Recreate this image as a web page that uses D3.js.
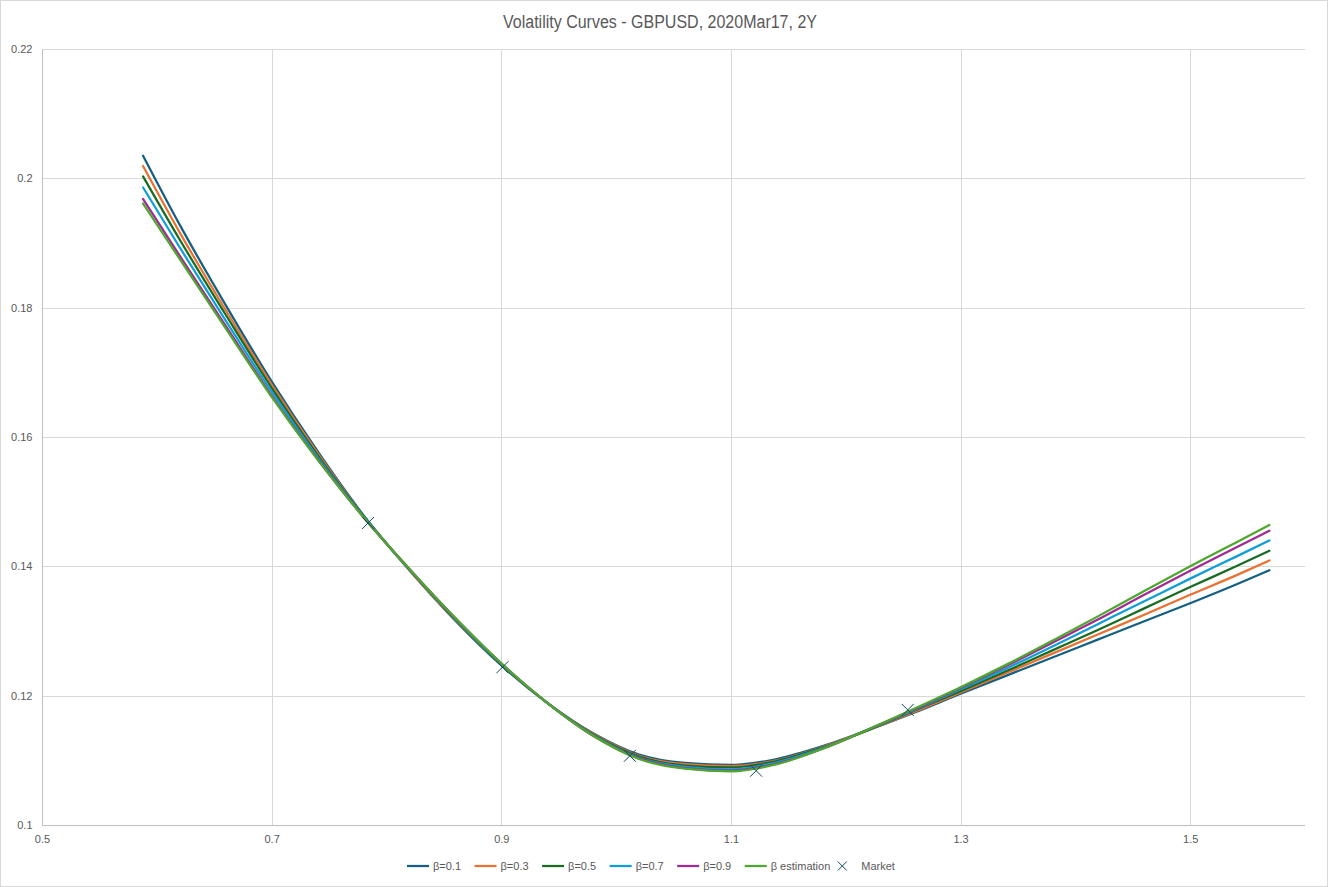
<!DOCTYPE html>
<html>
<head>
<meta charset="utf-8">
<title>Volatility Curves</title>
<script src="https://cdn.jsdelivr.net/npm/d3@7"></script>
<style>
  body { margin: 0; background: #fff; }
  text { font-family: "Liberation Sans Narrow", "Liberation Sans", Arial, sans-serif; fill: #595959; }
</style>
</head>
<body>
<svg id="chart" width="1328" height="887"></svg>
<script>
// ----------- DATA -----------
var strikes = [0.588, 0.62, 0.66, 0.70, 0.74, 0.78, 0.82, 0.86, 0.90, 0.94, 0.98, 1.02, 1.06,
               1.10, 1.14, 1.18, 1.22, 1.26, 1.30, 1.34, 1.38, 1.42, 1.46, 1.50, 1.54, 1.569];

var volBeta01 = [0.2035, 0.1928, 0.1804, 0.1686, 0.1578, 0.1479, 0.1394, 0.1316, 0.1247, 0.1189, 0.1142, 0.1109, 0.1096,
                 0.1093, 0.1102, 0.1122, 0.1147, 0.1174, 0.1203, 0.1231, 0.1259, 0.1287, 0.1315, 0.1343, 0.1372, 0.1394];
var volBeta03 = [0.2019, 0.1916, 0.1796, 0.1681, 0.1575, 0.1478, 0.1394, 0.1317, 0.1248, 0.1189, 0.1141, 0.1107, 0.1094,
                 0.1091, 0.1100, 0.1121, 0.1147, 0.1175, 0.1205, 0.1235, 0.1265, 0.1295, 0.1325, 0.1356, 0.1386, 0.1409];
var volBeta05 = [0.2003, 0.1905, 0.1789, 0.1676, 0.1572, 0.1478, 0.1395, 0.1318, 0.1248, 0.1189, 0.1140, 0.1106, 0.1092,
                 0.1089, 0.1099, 0.1120, 0.1147, 0.1177, 0.1207, 0.1238, 0.1270, 0.1302, 0.1335, 0.1368, 0.1400, 0.1424];
var volBeta07 = [0.1986, 0.1893, 0.1780, 0.1670, 0.1569, 0.1477, 0.1395, 0.1319, 0.1249, 0.1189, 0.1139, 0.1104, 0.1090,
                 0.1086, 0.1097, 0.1119, 0.1148, 0.1178, 0.1210, 0.1242, 0.1276, 0.1311, 0.1346, 0.1381, 0.1415, 0.1440];
var volBeta09 = [0.1968, 0.1880, 0.1772, 0.1664, 0.1566, 0.1476, 0.1396, 0.1320, 0.1250, 0.1189, 0.1138, 0.1103, 0.1088,
                 0.1084, 0.1095, 0.1118, 0.1148, 0.1179, 0.1212, 0.1246, 0.1282, 0.1318, 0.1356, 0.1393, 0.1429, 0.1455];
var volBetaEst = [0.1961, 0.1875, 0.1768, 0.1662, 0.1565, 0.1476, 0.1396, 0.1320, 0.1250, 0.1189, 0.1138, 0.1102, 0.1087,
                  0.1083, 0.1094, 0.1118, 0.1148, 0.1180, 0.1213, 0.1248, 0.1285, 0.1323, 0.1362, 0.1400, 0.1437, 0.1464];

var marketStrikes = [0.784, 0.901, 1.012, 1.122, 1.254];
var marketVols    = [0.1467, 0.1244, 0.1107, 0.1084, 0.1178];

var seriesNames  = ["β=0.1", "β=0.3", "β=0.5", "β=0.7", "β=0.9", "β estimation"];
var seriesValues = [volBeta01, volBeta03, volBeta05, volBeta07, volBeta09, volBetaEst];
var seriesColors = ["#156082", "#E97132", "#196B24", "#0F9ED5", "#A02B93", "#4EA72E"];
var marketName  = "Market";
var marketColor = "#104862";

var xTicks = [0.5, 0.7, 0.9, 1.1, 1.3, 1.5];
var yTicks = [0.1, 0.12, 0.14, 0.16, 0.18, 0.2, 0.22];
var titleText = "Volatility Curves - GBPUSD, 2020Mar17, 2Y";

// ----------- SETUP -----------
var svg = d3.select("#chart"),
  width = +svg.attr("width"),
  height = +svg.attr("height");

var plot = { left: 42, right: 1305, top: 49, bottom: 825 };

var x = d3.scaleLinear().domain([0.5, 1.6]).range([plot.left, plot.right]);
var y = d3.scaleLinear().domain([0.1, 0.22]).range([plot.bottom, plot.top]);

// chart background + outline
svg.append("rect")
  .attr("x", 0.5).attr("y", 0.5)
  .attr("width", width - 1).attr("height", height - 1)
  .attr("fill", "#fff")
  .attr("stroke", "#d9d9d9");

// title (squeezed a little, the original font is a narrow one)
svg.append("text")
  .attr("x", 660).attr("y", 28)
  .attr("text-anchor", "middle")
  .attr("textLength", 314)
  .attr("lengthAdjust", "spacingAndGlyphs")
  .style("font-size", "18px")
  .text(titleText);

// gridlines
svg.append("g")
  .selectAll("line")
  .data(yTicks.slice(1))
  .enter().append("line")
  .attr("x1", plot.left).attr("x2", plot.right)
  .attr("y1", function(d) { return Math.round(y(d)) + 0.5; })
  .attr("y2", function(d) { return Math.round(y(d)) + 0.5; })
  .attr("stroke", "#d9d9d9");

svg.append("g")
  .selectAll("line")
  .data(xTicks.slice(1))
  .enter().append("line")
  .attr("y1", plot.top).attr("y2", plot.bottom)
  .attr("x1", function(d) { return Math.round(x(d)) + 0.5; })
  .attr("x2", function(d) { return Math.round(x(d)) + 0.5; })
  .attr("stroke", "#d9d9d9");

// axes (d3 axes, then restyled to look like Excel)
var yAxis = svg.append("g")
  .attr("transform", "translate(" + (Math.round(plot.left) + 0.5) + ",0)")
  .call(d3.axisLeft(y).tickValues(yTicks).tickSize(0).tickPadding(10).tickFormat(d3.format("~g")));
var xAxis = svg.append("g")
  .attr("transform", "translate(0," + (Math.round(plot.bottom) + 0.5) + ")")
  .call(d3.axisBottom(x).tickValues(xTicks).tickSize(0).tickPadding(10).tickFormat(d3.format("~g")));

[xAxis, yAxis].forEach(function(a) {
  a.select(".domain").attr("stroke", "#bfbfbf");
  a.selectAll("text").style("font-size", "11px").attr("fill", "#595959")
    .style("font-family", '"Liberation Sans Narrow", "Liberation Sans", Arial, sans-serif');
});
yAxis.select(".domain").attr("d", "M0," + plot.top + "V" + plot.bottom);
xAxis.select(".domain").attr("d", "M" + plot.left + ",0H" + plot.right);

// ----------- CURVES -----------
var line = d3.line()
  .x(function(d) { return x(d[0]); })
  .y(function(d) { return y(d[1]); })
  .curve(d3.curveMonotoneX);

svg.append("g")
  .selectAll("path")
  .data(seriesValues)
  .enter().append("path")
  .attr("d", function(vals) { return line(strikes.map(function(k, i) { return [k, vals[i]]; })); })
  .attr("fill", "none")
  .attr("stroke", function(d, i) { return seriesColors[i]; })
  .attr("stroke-width", 2.25)
  .attr("stroke-linecap", "round");

// market points as X markers
var mk = 6;
function crossPath(cx, cy, r) {
  return "M" + (cx - r) + "," + (cy - r) + "L" + (cx + r) + "," + (cy + r) +
         "M" + (cx - r) + "," + (cy + r) + "L" + (cx + r) + "," + (cy - r);
}
svg.append("g")
  .selectAll("path")
  .data(marketStrikes)
  .enter().append("path")
  .attr("d", function(k, i) { return crossPath(x(k), y(marketVols[i]), mk); })
  .attr("stroke", marketColor)
  .attr("stroke-width", 1);

// ----------- LEGEND -----------
var legend = svg.append("g").attr("transform", "translate(0,866)");
var lx = 407, textEnd = 0;
seriesNames.forEach(function(name, i) {
  legend.append("line")
    .attr("x1", lx).attr("x2", lx + 22)
    .attr("y1", 0).attr("y2", 0)
    .attr("stroke", seriesColors[i])
    .attr("stroke-width", 2.25);
  var t = legend.append("text")
    .attr("x", lx + 26).attr("y", 4)
    .style("font-size", "11px")
    .text(name);
  textEnd = lx + 26 + t.node().getComputedTextLength();
  lx = textEnd + 13.5;
});
var mx = textEnd + 12;
legend.append("path")
  .attr("d", crossPath(mx, 0, 4.5))
  .attr("stroke", marketColor)
  .attr("stroke-width", 1);
legend.append("text")
  .attr("x", mx + 19).attr("y", 4)
  .style("font-size", "11px")
  .text(marketName);
</script>
</body>
</html>
